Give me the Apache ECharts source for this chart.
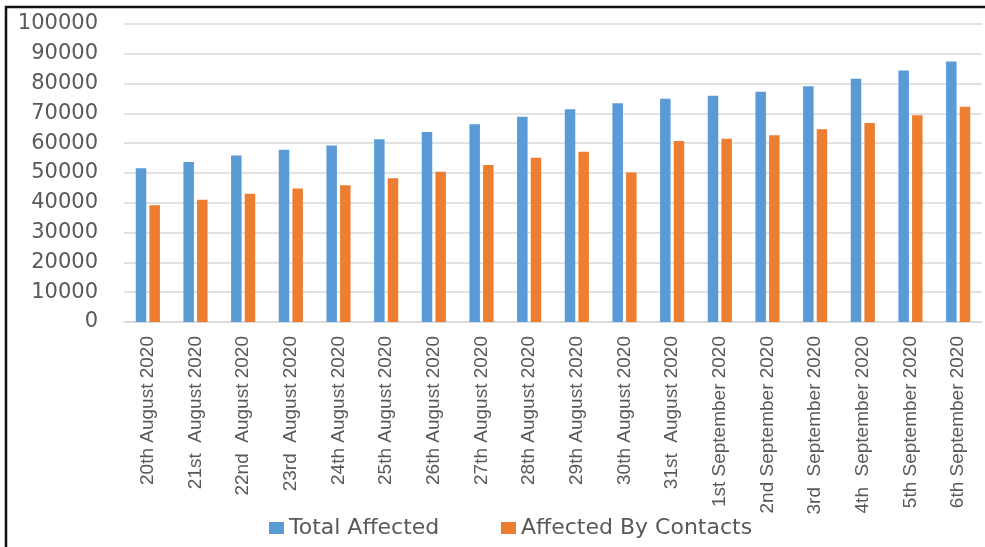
<!DOCTYPE html>
<html>
<head>
<meta charset="utf-8">
<script src="https://cdn.jsdelivr.net/npm/echarts@6/dist/echarts.min.js"></script>
<style>
  html, body { margin: 0; padding: 0; background: #ffffff; }
  #chart { width: 985px; height: 547px; }
</style>
</head>
<body>
<div id="chart"></div>
<script>
// Daily case dates
const categories = [
  '20th August 2020', '21st  August 2020', '22nd  August 2020', '23rd  August 2020',
  '24th August 2020', '25th August 2020', '26th August 2020', '27th August 2020',
  '28th August 2020', '29th August 2020', '30th August 2020', '31st  August 2020',
  '1st September 2020', '2nd September 2020', '3rd  September 2020', '4th  September 2020',
  '5th September 2020', '6th September 2020'
];

// Cumulative totals
const totalAffected = [
  51600, 53700, 55900, 57800, 59200, 61300, 63800, 66400, 68900,
  71400, 73400, 74900, 75900, 77300, 79100, 81600, 84400, 87400
];

// Cases traced to contacts
const affectedByContacts = [
  39200, 41000, 43000, 44800, 45900, 48200, 50400, 52700, 55100,
  57100, 50200, 60700, 61500, 62700, 64700, 66800, 69400, 72200
];

const seriesNames = ['Total Affected', 'Affected By Contacts'];

const chart = echarts.init(document.getElementById('chart'));
const textColor = '#595959';

const legendBase = {
  top: 512,
  itemWidth: 15,
  itemHeight: 12,
  icon: 'rect',
  textStyle: { fontFamily: 'DejaVu Sans', fontSize: 22, color: textColor }
};

chart.setOption({
  animation: false,
  backgroundColor: '#ffffff',
  grid: { left: 124, right: 3, top: 24, bottom: 225, containLabel: false },
  legend: [
    Object.assign({ data: [seriesNames[0]], left: 264 }, legendBase),
    Object.assign({ data: [seriesNames[1]], left: 496 }, legendBase)
  ],
  xAxis: {
    type: 'category',
    data: categories,
    axisLine: { show: true, lineStyle: { color: '#d9d9d9', width: 1.5 } },
    axisTick: { show: false },
    axisLabel: {
      rotate: 90,
      interval: 0,
      margin: 14,
      fontFamily: '"Liberation Sans", Arial, sans-serif',
      fontSize: 19,
      color: textColor
    }
  },
  yAxis: {
    type: 'value',
    min: 0,
    max: 100000,
    interval: 10000,
    axisLine: { show: false },
    axisTick: { show: false },
    splitLine: { lineStyle: { color: '#d9d9d9', width: 1.5 } },
    axisLabel: {
      margin: 26,
      fontFamily: 'DejaVu Sans',
      fontSize: 21,
      color: textColor,
      formatter: (v) => String(v)
    }
  },
  series: [
    {
      name: seriesNames[0],
      type: 'bar',
      data: totalAffected,
      barWidth: 10.5,
      barGap: '30%',
      itemStyle: { color: '#5b9bd5' }
    },
    {
      name: seriesNames[1],
      type: 'bar',
      data: affectedByContacts,
      barWidth: 10.5,
      itemStyle: { color: '#ed7d31' }
    }
  ],
  graphic: [
    { type: 'line', shape: { x1: 6, y1: 6, x2: 6, y2: 547 }, style: { stroke: '#111', lineWidth: 2.5 } },
    { type: 'line', shape: { x1: 5, y1: 7, x2: 985, y2: 7 }, style: { stroke: '#111', lineWidth: 2.5 } }
  ]
});
</script>
</body>
</html>
